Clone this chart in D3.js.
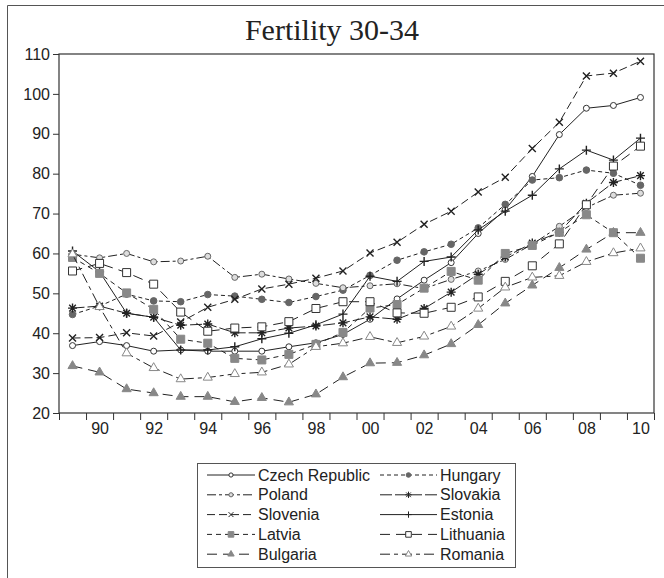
<!DOCTYPE html>
<html>
<head>
<meta charset="utf-8">
<script src="https://cdn.jsdelivr.net/npm/d3@7/dist/d3.min.js"></script>
<style>
  body { margin: 0; background: #fff; }
  svg { display: block; font-family: "Liberation Sans", Arial, sans-serif; }
</style>
</head>
<body>
<svg id="chart" width="664" height="578"></svg>
<script>
/* global d3 */

const YEARS = [1989, 1990, 1991, 1992, 1993, 1994, 1995, 1996, 1997, 1998, 1999,
  2000, 2001, 2002, 2003, 2004, 2005, 2006, 2007, 2008, 2009, 2010];
const LABEL_YEARS = [1990, 1992, 1994, 1996, 1998, 2000, 2002, 2004, 2006, 2008, 2010];
const Y_TICKS = [20, 30, 40, 50, 60, 70, 80, 90, 100, 110];

const COUNTRIES = ["Czech Republic", "Hungary", "Poland", "Slovakia", "Slovenia",
  "Estonia", "Latvia", "Lithuania", "Bulgaria", "Romania"];

const CZECH = [36.9, 37.9, 36.9, 35.5, 35.8, 35.5, 35.5, 35.5, 36.6, 37.6, 39.7,
  43.5, 48.6, 53.3, 57.7, 65.0, 71.0, 79.3, 89.8, 96.4, 97.1, 99.1];
const HUNGARY = [44.7, 46.8, 49.8, 48.1, 47.9, 49.7, 49.3, 48.5, 47.7, 49.2, 50.8,
  54.5, 58.3, 60.4, 62.3, 66.4, 72.3, 78.4, 79.0, 80.9, 80.1, 77.1];
const POLAND = [59.8, 58.9, 60.0, 57.9, 58.1, 59.3, 54.0, 54.8, 53.6, 52.5, 51.4,
  51.9, 52.4, 51.2, 53.5, 55.6, 58.5, 62.3, 66.8, 71.5, 74.6, 75.1];
const SLOVAKIA = [46.3, 46.8, 45.0, 44.0, 42.0, 42.3, 40.1, 40.1, 41.3, 41.8, 42.6,
  44.1, 43.5, 46.2, 50.3, 54.8, 59.1, 62.6, 65.3, 72.6, 77.8, 79.5];
const SLOVENIA = [38.8, 38.9, 40.1, 39.3, 42.8, 46.5, 48.5, 51.1, 52.3, 53.8, 55.6,
  60.1, 62.8, 67.3, 70.6, 75.4, 79.1, 86.3, 92.9, 104.5, 105.2, 108.2];
const ESTONIA = [60.6, 55.4, 45.0, 44.0, 35.8, 35.8, 36.6, 38.6, 40.0, 42.1, 44.8,
  54.3, 53.0, 58.0, 59.1, 65.9, 70.6, 74.6, 81.2, 85.9, 83.4, 88.9];
const LATVIA = [59.0, 55.0, 50.1, 46.0, 38.5, 37.5, 33.7, 33.3, 34.7, 37.2, 40.2,
  46.3, 47.2, 51.3, 55.5, 53.3, 60.0, 62.0, 65.3, 69.7, 65.2, 58.8];
const LITHUANIA = [55.6, 57.5, 55.2, 52.3, 45.3, 40.5, 41.3, 41.6, 42.9, 46.2, 47.9,
  47.9, 45.1, 45.0, 46.5, 49.1, 53.0, 56.9, 62.4, 72.2, 81.9, 86.9];
const BULGARIA = [31.8, 30.2, 26.0, 25.0, 24.1, 24.1, 22.8, 23.8, 22.7, 24.7, 29.0,
  32.5, 32.6, 34.5, 37.3, 42.1, 47.5, 52.0, 56.4, 61.0, 65.2, 65.2];
const ROMANIA = [59.8, 46.6, 35.0, 31.3, 28.5, 28.9, 29.8, 30.2, 32.2, 36.6, 37.5,
  39.1, 37.6, 39.2, 41.7, 46.2, 51.5, 54.0, 54.4, 57.9, 60.1, 61.3];

const SERIES_VALUES = [CZECH, HUNGARY, POLAND, SLOVAKIA, SLOVENIA,
  ESTONIA, LATVIA, LITHUANIA, BULGARIA, ROMANIA];

// Line / marker look for each country, same order as COUNTRIES.
const STYLES = [
  { dash: null, marker: "circle", fill: "#fff", stroke: "#333" },
  { dash: "4,3", marker: "dot", fill: "#666", stroke: "#666" },
  { dash: "9,3,3,3", marker: "circle", fill: "#ddd", stroke: "#666" },
  { dash: "12,3", marker: "asterisk", fill: "none", stroke: "#222" },
  { dash: "8,4", marker: "x", fill: "none", stroke: "#222" },
  { dash: null, marker: "plus", fill: "none", stroke: "#222" },
  { dash: "5,4", marker: "square", fill: "#888", stroke: "#888" },
  { dash: "10,6", marker: "square", fill: "#fff", stroke: "#333" },
  { dash: "10,6", marker: "triangle", fill: "#888", stroke: "#888" },
  { dash: "10,4,4,4", marker: "triangle", fill: "#fff", stroke: "#888" },
];

const svg = d3.select("#chart");
const box = { left: 59, top: 54, right: 654, bottom: 413 };

// outer frame of the figure
svg.append("path")
  .attr("d", "M7.5,578V5.5H664")
  .attr("fill", "none")
  .attr("stroke", "#555");

svg.append("text")
  .attr("x", 332)
  .attr("y", 40)
  .attr("text-anchor", "middle")
  .style("font-family", "'Liberation Serif', 'Times New Roman', serif")
  .style("font-size", "30px")
  .attr("fill", "#222")
  .text("Fertility 30-34");

const x = d3.scaleLinear()
  .domain([YEARS[0] - 0.5, YEARS[YEARS.length - 1] + 0.5])
  .range([box.left, box.right]);
const y = d3.scaleLinear().domain([20, 110]).range([box.bottom, box.top]);

// y axis
const yAxis = svg.append("g")
  .attr("transform", `translate(${box.left},0)`)
  .call(d3.axisLeft(y).tickValues(Y_TICKS).tickSize(6).tickPadding(3));
yAxis.select(".domain").remove();
yAxis.selectAll("line").attr("stroke", "#333");
yAxis.selectAll("text").style("font-size", "16px").attr("fill", "#222");

// x ticks sit on year boundaries, labels in the middle of the year
const boundaries = [YEARS[0] - 0.5].concat(YEARS.map((d) => d + 0.5));
const xTicks = svg.append("g")
  .attr("transform", `translate(0,${box.bottom})`)
  .call(d3.axisBottom(x).tickValues(boundaries).tickSize(7).tickFormat(""));
xTicks.select(".domain").remove();
xTicks.selectAll("line").attr("stroke", "#333");

const xLabels = svg.append("g")
  .attr("transform", `translate(0,${box.bottom})`)
  .call(d3.axisBottom(x).tickValues(LABEL_YEARS).tickSize(0).tickPadding(10)
    .tickFormat((d) => String(d % 100).padStart(2, "0")));
xLabels.select(".domain").remove();
xLabels.selectAll("text").style("font-size", "16px").attr("fill", "#222");

function markerPath(type, k) {
  switch (type) {
    case "circle":
      return d3.symbol(d3.symbolCircle, Math.PI * 3 * 3 * k * k)();
    case "dot":
      return d3.symbol(d3.symbolCircle, Math.PI * 3.3 * 3.3 * k * k)();
    case "square":
      return d3.symbol(d3.symbolSquare, 64 * k * k)();
    case "triangle":
      return d3.symbol(d3.symbolTriangle, 36 * k * k)();
    case "plus": {
      const s = 4.5 * k;
      return `M${-s},0H${s}M0,${-s}V${s}`;
    }
    case "x": {
      const s = 3.5 * k;
      return `M${-s},${-s}L${s},${s}M${-s},${s}L${s},${-s}`;
    }
    case "asterisk": {
      const s = 4.5 * k;
      const d = 3.3 * k;
      return `M${-s},0H${s}M0,${-s}V${s}M${-d},${-d}L${d},${d}M${-d},${d}L${d},${-d}`;
    }
    default:
      return "";
  }
}

const line = d3.line().x((d) => x(d.year)).y((d) => y(d.value));
const plot = svg.append("g");

COUNTRIES.forEach((name, i) => {
  const st = STYLES[i];
  const pts = YEARS.map((year, j) => ({ year, value: SERIES_VALUES[i][j] }));
  plot.append("path")
    .datum(pts)
    .attr("d", line)
    .attr("fill", "none")
    .attr("stroke", "#222")
    .attr("stroke-width", 1)
    .attr("stroke-dasharray", st.dash);

  plot.selectAll(null)
    .data(pts)
    .join("path")
    .attr("transform", (d) => `translate(${x(d.year)},${y(d.value)})`)
    .attr("d", markerPath(st.marker, 1))
    .attr("fill", st.fill)
    .attr("stroke", st.stroke)
    .attr("stroke-width", st.fill === "none" ? 1.4 : 1);
});

// plot frame
svg.append("rect")
  .attr("x", box.left)
  .attr("y", box.top)
  .attr("width", box.right - box.left)
  .attr("height", box.bottom - box.top)
  .attr("fill", "none")
  .attr("stroke", "#333")
  .attr("stroke-width", 1.2);

// legend
const legendBox = { x: 197, y: 463, w: 318, h: 104 };
const legend = svg.append("g");
legend.append("rect")
  .attr("x", legendBox.x + 0.5)
  .attr("y", legendBox.y + 0.5)
  .attr("width", legendBox.w)
  .attr("height", legendBox.h)
  .attr("fill", "#fff")
  .attr("stroke", "#555");

const cols = [{ x0: 207, x1: 255 }, { x0: 380, x1: 437 }];
COUNTRIES.forEach((name, i) => {
  const st = STYLES[i];
  const col = cols[i % 2];
  const cy = 475 + Math.floor(i / 2) * 19.8;
  const g = legend.append("g");
  g.append("line")
    .attr("x1", col.x0).attr("x2", col.x1)
    .attr("y1", cy).attr("y2", cy)
    .attr("stroke", "#222")
    .attr("stroke-dasharray", st.dash);
  g.append("path")
    .attr("transform", `translate(${(col.x0 + col.x1) / 2},${cy})`)
    .attr("d", markerPath(st.marker, 0.7))
    .attr("fill", st.fill)
    .attr("stroke", st.stroke)
    .attr("stroke-width", 1);
  g.append("text")
    .attr("x", col.x1 + 3)
    .attr("y", cy)
    .attr("dy", "0.35em")
    .style("font-size", "16px")
    .attr("fill", "#222")
    .text(name);
});
</script>
</body>
</html>
